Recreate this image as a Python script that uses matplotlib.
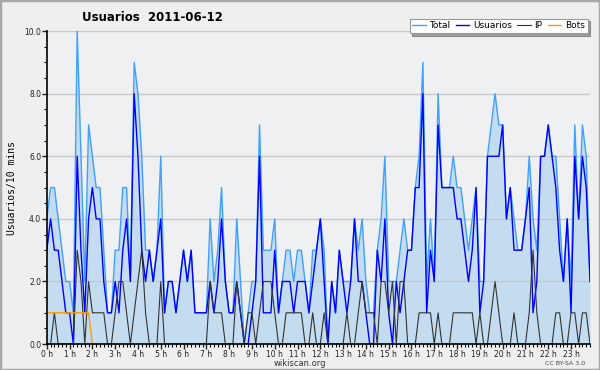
import numpy as np
import matplotlib.pyplot as plt
from matplotlib.patches import Rectangle
from matplotlib.ticker import MultipleLocator

# values per 10 minutes, 2011-06-12
total = [4, 5, 5, 4, 3, 2, 2, 1, 10, 6, 2, 7, 6, 5, 5, 3, 1, 1, 3, 3, 5, 5, 2, 9,
         8, 6, 3, 3, 2, 3, 6, 1, 2, 2, 1, 2, 3, 2, 3, 1, 1, 1, 1, 4, 2, 3, 5, 2,
         1, 1, 4, 2, 0, 1, 2, 2, 7, 3, 3, 3, 4, 1, 2, 3, 3, 2, 3, 3, 2, 1, 3, 3,
         4, 3, 0, 2, 1, 3, 2, 2, 2, 4, 3, 4, 2, 1, 1, 3, 4, 6, 2, 2, 2, 3, 4, 3,
         3, 5, 6, 9, 2, 4, 2, 8, 5, 5, 5, 6, 5, 5, 4, 3, 4, 5, 2, 2, 6, 7, 8, 7,
         7, 4, 5, 4, 3, 3, 4, 6, 4, 3, 6, 6, 7, 6, 6, 4, 2, 4, 2, 7, 4, 7, 6, 2]
usuarios = [3, 4, 3, 3, 2, 1, 1, 0, 6, 3, 1, 4, 5, 4, 4, 2, 1, 1, 2, 1, 3, 4, 2, 8,
            6, 3, 2, 3, 2, 3, 4, 1, 2, 2, 1, 2, 3, 2, 3, 1, 1, 1, 1, 2, 1, 2, 4, 2,
            1, 1, 2, 1, 0, 0, 1, 2, 6, 1, 1, 1, 3, 1, 2, 2, 2, 1, 2, 2, 2, 1, 2, 3,
            4, 2, 0, 2, 1, 3, 2, 1, 2, 4, 2, 2, 1, 0, 0, 3, 2, 4, 1, 0, 2, 1, 2, 3,
            3, 5, 5, 8, 1, 3, 2, 7, 5, 5, 5, 5, 4, 4, 3, 2, 3, 5, 1, 2, 6, 6, 6, 6,
            7, 4, 5, 3, 3, 3, 4, 5, 1, 2, 6, 6, 7, 6, 5, 3, 2, 4, 1, 6, 4, 6, 5, 2]
ip = [0, 0, 1, 0, 0, 0, 0, 0, 3, 2, 0, 2, 1, 1, 1, 1, 0, 0, 1, 2, 2, 1, 0, 1,
      2, 3, 1, 0, 0, 0, 2, 0, 0, 0, 0, 0, 0, 0, 0, 0, 0, 0, 0, 2, 1, 1, 1, 0,
      0, 0, 2, 1, 0, 1, 1, 0, 1, 2, 2, 2, 1, 0, 0, 1, 1, 1, 1, 1, 0, 0, 1, 0,
      0, 1, 0, 0, 0, 0, 0, 1, 0, 0, 1, 2, 1, 1, 1, 0, 2, 2, 1, 2, 0, 2, 2, 0,
      0, 0, 1, 1, 1, 1, 0, 1, 0, 0, 0, 1, 1, 1, 1, 1, 1, 0, 1, 0, 0, 1, 2, 1,
      0, 0, 0, 1, 0, 0, 0, 1, 3, 1, 0, 0, 0, 0, 1, 1, 0, 0, 1, 1, 0, 1, 1, 0]
bots = [1, 1, 1, 1, 1, 1, 1, 1, 1, 1, 1, 1, 0]

hour_labels = ['%d h' % h for h in range(24)]

x = np.arange(len(total))

fig = plt.figure(figsize=(6, 3.7), dpi=100, facecolor='#efefef')
fig.patches.append(Rectangle((0, 0), 1, 1, transform=fig.transFigure, fill=False,
                             ec='#a8a8a8', lw=2.5))
ax = fig.add_axes([0.078, 0.070, 0.906, 0.846])
ax.set_facecolor('#eef0f2')

ax.fill_between(x, total, color='#c4dcf0', zorder=0.3, lw=0)
ax.plot(x, total, color='#40a0ff', lw=1, label='Total')
ax.plot(x, usuarios, color='#0000ff', lw=1, label='Usuarios')
ax.plot(x, ip, color='#333333', lw=0.8, label='IP')
ax.plot(np.arange(len(bots)), bots, color='#ff9900', lw=1, label='Bots')

ax.set_xlim(0, 143.1)
ax.set_ylim(0, 10)
ax.set_axisbelow(True)
ax.yaxis.grid(True, color='#c8c8c8', lw=1)
ax.yaxis.set_major_locator(MultipleLocator(2))
ax.yaxis.set_minor_locator(MultipleLocator(0.5))
ax.set_yticklabels(['%.1f' % v for v in ax.get_yticks()])
ax.set_xticks(np.arange(0, 144, 6))
ax.set_xticklabels(hour_labels)
ax.xaxis.set_minor_locator(MultipleLocator(1))
ax.tick_params(axis='both', which='major', direction='out', length=3.5, width=1,
               labelsize=5.5, pad=0.5, colors='#222222')
ax.tick_params(axis='both', which='minor', direction='out', length=2.5, width=0.8)
for s in ['top', 'right']:
    ax.spines[s].set_visible(False)
ax.spines['left'].set_linewidth(1.2)
ax.spines['bottom'].set_linewidth(1.2)

ax.set_ylabel('Usuarios/10 mins', family='DejaVu Sans Mono', fontsize=7, labelpad=5)

fig.text(0.137, 0.953, 'Usuarios  2011-06-12', fontweight='bold', fontsize=8.5,
         va='center')
fig.text(0.5, 0.017, 'wikiscan.org', ha='center', va='center', fontsize=6,
         color='#333333')
fig.text(0.942, 0.017, 'CC BY-SA 3.0', ha='center', va='center', fontsize=4.5,
         color='#444444')

leg = fig.legend(loc='upper right', bbox_to_anchor=(0.987, 0.962), ncol=4,
                 fontsize=6.5, fancybox=False, shadow=True, handlelength=1.5,
                 columnspacing=0.6, handletextpad=0.4, borderpad=0.3,
                 framealpha=1, edgecolor='#999999')
leg.get_frame().set_linewidth(0.8)

fig.savefig('out.png', dpi=100, facecolor=fig.get_facecolor())
